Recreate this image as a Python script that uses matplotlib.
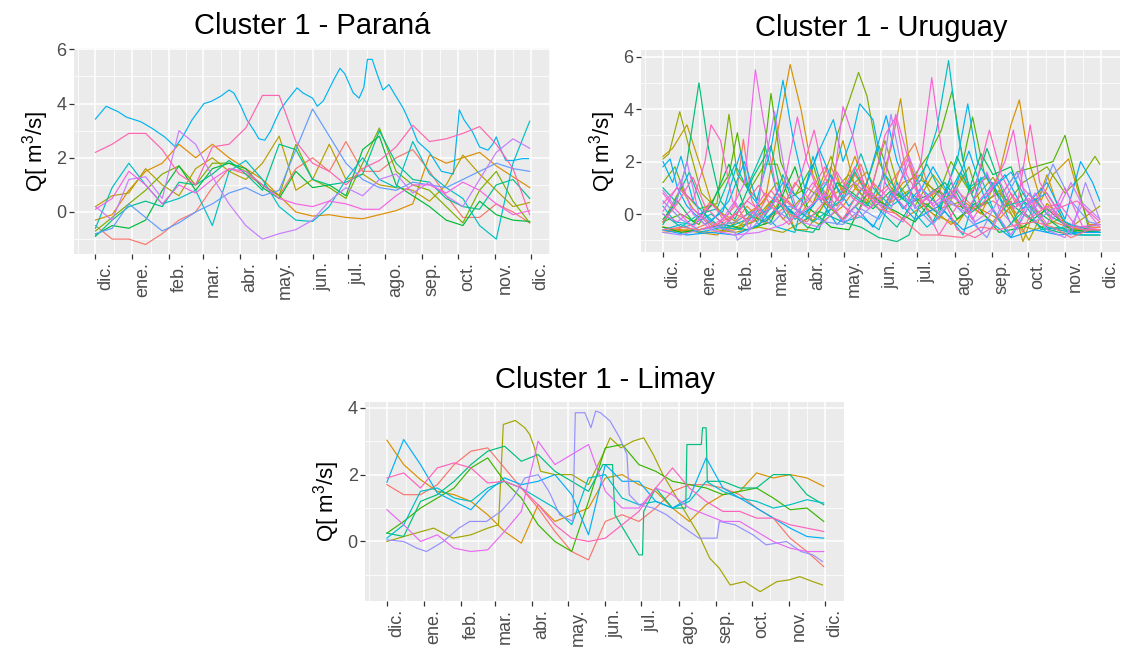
import numpy as np
import matplotlib.pyplot as plt
from matplotlib.transforms import ScaledTranslation

plt.rcParams['font.family'] = ['Liberation Sans', 'DejaVu Sans']
plt.rcParams['mathtext.fontset'] = 'custom'
plt.rcParams['mathtext.rm'] = 'Liberation Sans'

# month starts, counted in days from 1 Dec
month_days = [0, 31, 62, 90, 121, 151, 182, 212, 243, 274, 304, 335, 365]
month_labels = ['dic.', 'ene.', 'feb.', 'mar.', 'abr.', 'may.', 'jun.',
                'jul.', 'ago.', 'sep.', 'oct.', 'nov.', 'dic.']

# fortnightly sampling used by most series
days14 = [0, 14, 28, 42, 56, 70, 84, 98, 112, 126, 140, 154, 168, 182,
          196, 210, 224, 238, 252, 266, 280, 294, 308, 322, 336, 350, 364]

# ---------------- Paraná (standardised Q) ----------------
pa_sky_days = [0, 9, 19, 26, 38, 47, 58, 67, 73, 81, 91, 97, 105, 112, 116, 122, 127, 133,
               137, 142, 147, 151, 155, 160, 169, 174, 182, 186, 191, 200, 205, 209, 216,
               221, 225, 228, 232, 236, 241, 246, 251, 258, 265, 270, 280, 290, 300, 305,
               309, 316, 322, 329, 333, 336, 340, 344, 350, 358, 363]
pa_sky = [3.43, 3.9, 3.7, 3.5, 3.33, 3.1, 2.77, 2.4, 2.77, 3.4, 4.0, 4.08, 4.27, 4.5, 4.39,
          3.9, 3.4, 3.0, 2.7, 2.65, 3.0, 3.4, 3.77, 4.08, 4.58, 4.39, 4.2, 3.9, 4.1, 4.9,
          5.3, 5.1, 4.4, 4.2, 4.6, 5.63, 5.63, 5.1, 4.5, 4.7, 4.33, 3.83, 3.15, 2.6, 2.2,
          1.5, 1.4, 3.77, 3.4, 2.96, 2.4, 2.28, 2.5, 2.77, 2.28, 1.9, 1.9, 1.97, 1.97]
pa_red = [-0.5, -1.0, -1.0, -1.2, -0.8, -0.3, 0.0, 0.9, 1.6, 1.4, 1.0, 0.6, 1.6, 2.0,
          1.5, 2.6, 1.5, 1.5, 2.0, 2.3, 1.5, 0.6, -0.2, -0.2, 0.3, 0.0, -0.4]
pa_orange = [-0.3, -0.1, 0.8, 1.5, 1.8, 2.5, 2.0, 2.5, 2.0, 1.6, 1.2, 0.6, 0.0, -0.15,
             -0.1, -0.2, -0.25, -0.1, 0.05, 0.3, 2.1, 1.8, 2.0, 2.2, 1.7, 1.3, 0.9]
pa_olive = [0.2, 0.6, 0.7, 1.6, 1.0, 0.6, 1.6, 2.0, 1.5, 1.2, 1.8, 2.8, 0.8, 1.2, 2.5,
            1.2, 1.4, 1.0, 0.9, 0.8, 0.4, 1.0, 2.1, 1.4, 0.8, 0.2, 0.35]
pa_lime = [-0.7, -0.2, 0.3, 0.8, 1.4, 1.7, 1.0, 1.8, 1.8, 1.5, 1.0, 0.6, 2.5, 1.2, 0.9,
           0.5, 1.8, 3.1, 1.5, 1.0, 0.8, 0.2, -0.4, 0.8, 1.5, 0.4, -0.4]
pa_green = [-0.85, -0.5, -0.6, -0.3, 0.8, 1.7, 0.8, 1.6, 1.8, 1.6, 0.9, 0.5, 1.5, 0.9,
            1.0, 0.6, 2.3, 2.8, 1.0, 0.6, 0.2, -0.3, -0.5, 0.4, -0.1, -0.3, -0.35]
pa_teal = [-0.9, -0.3, 0.2, 0.4, 0.2, 1.1, 1.0, 1.4, 1.9, 1.4, 0.8, 2.5, 2.3, 1.2, 1.0,
           1.1, 1.4, 3.0, 1.8, 1.2, 1.1, 0.5, 0.2, 0.1, 1.0, 1.2, 0.5]
pa_cyan = [-0.6, 0.9, 1.8, 1.0, 0.3, 0.5, 0.8, -0.5, 1.5, 1.9, 1.2, 0.2, -0.3, -0.35,
           0.2, 1.2, 2.0, 1.2, 0.9, 2.6, 1.4, 0.9, 0.5, -0.5, -1.0, 1.8, 3.35]
pa_blue = [-0.8, -0.6, 0.3, -0.2, -0.7, -0.4, 0.0, 0.3, 0.7, 0.9, 0.6, 0.8, 2.3, 3.8,
           2.8, 1.8, 1.2, 0.9, 0.8, 1.1, 1.0, 0.9, 1.2, 1.5, 1.8, 1.6, 1.5]
pa_purple = [0.2, -0.3, 1.2, 1.3, 0.5, 3.0, 2.5, 1.3, 0.3, -0.5, -1.0, -0.8, -0.65,
             -0.3, 0.4, 0.9, 0.6, 1.2, 1.4, 0.7, 1.1, 0.6, 0.2, 1.2, 2.2, 2.7, 2.35]
pa_magenta = [0.1, 0.5, 1.5, 1.0, 0.3, 1.0, 0.7, 1.2, 1.6, 1.5, 1.0, 0.5, 0.3, 0.2, 0.4,
              0.3, 0.1, 0.1, 0.6, 1.0, 1.0, 0.7, 1.1, 0.8, 0.3, -0.1, 0.05]
pa_pink = [2.2, 2.5, 2.9, 2.9, 2.3, 1.4, 1.0, 2.4, 2.5, 3.1, 4.3, 4.3, 2.6, 1.8, 1.5,
           1.0, 1.6, 1.9, 2.4, 3.2, 2.6, 2.7, 2.9, 3.15, 2.5, 1.6, -0.1]

# ---------------- Limay ----------------
li_red = [1.7, 1.4, 1.4, 1.7, 2.3, 2.7, 2.8, 2.2, 1.6, 1.0, 0.3, -0.3, -0.55, 0.6, 0.8,
          0.6, 1.0, 1.5, 1.7, 1.7, 1.6, 1.4, 1.0, 0.7, 0.1, -0.3, -0.75]
li_orange = [3.03, 2.3, 1.85, 1.5, 1.4, 1.2, 0.8, 0.3, -0.05, 1.1, 0.6, 0.8, 1.0, 1.9,
             2.0, 1.7, 1.5, 1.0, 0.6, 1.1, 1.4, 1.5, 2.05, 1.9, 2.0, 1.9, 1.65]
li_olive_days = [0, 19, 39, 55, 70, 84, 93, 97, 107, 115, 119, 123, 128, 140, 154, 168,
                 180, 186, 195, 205, 214, 222, 230, 240, 250, 260, 269, 277, 286, 298,
                 311, 325, 335, 344, 355, 363]
li_olive = [0.0, 0.2, 0.4, 0.1, 0.2, 0.4, 0.5, 3.5, 3.62, 3.4, 3.2, 2.8, 2.1, 2.0, 2.0,
            1.7, 2.6, 3.1, 2.8, 3.0, 3.1, 2.6, 2.0, 1.4, 0.8, 0.2, -0.5, -0.8, -1.3,
            -1.2, -1.5, -1.2, -1.15, -1.05, -1.2, -1.3]
li_green = [0.25, 0.6, 1.0, 1.3, 1.6, 2.2, 2.5, 1.8, 1.3, 0.5, 0.0, -0.3, 1.2, 2.8, 2.9,
            2.3, 2.1, 1.8, 1.7, 1.6, 1.4, 1.5, 1.6, 1.3, 0.95, 1.0, 0.6]
li_teal_days = [0, 14, 28, 42, 56, 70, 84, 98, 112, 126, 140, 154, 168, 180, 188, 190,
                200, 210, 213, 214, 224, 238, 249, 250, 262, 263, 266, 267, 280, 294,
                308, 322, 336, 350, 364]
li_teal = [0.25, 0.15, 1.2, 1.4, 1.8, 2.3, 2.7, 2.85, 2.4, 2.6, 2.1, 1.8, 1.5, 2.3, 2.3,
           0.8, 0.2, -0.4, -0.4, 0.9, 1.6, 1.0, 1.0, 2.9, 2.9, 3.4, 3.4, 1.8, 1.8, 1.6,
           1.6, 2.0, 2.0, 1.4, 1.1]
li_cyan = [0.1, 0.5, 1.5, 1.6, 1.3, 1.2, 1.6, 1.8, 1.6, 1.3, 1.0, 0.5, 1.9, 2.0, 1.3,
           1.1, 1.2, 1.0, 1.2, 1.8, 1.5, 1.3, 1.2, 1.0, 1.1, 1.25, 1.15]
li_blue = [1.77, 3.05, 2.3, 1.45, 1.2, 0.95, 1.5, 1.9, 1.7, 1.8, 2.0, 1.4, 0.2, 2.3,
           1.8, 1.8, 1.2, 1.0, 1.3, 2.5, 1.6, 1.3, 1.0, 0.7, 0.4, 0.15, 0.1]
li_violet_days = [0, 14, 25, 33, 47, 60, 69, 83, 95, 105, 115, 126, 135, 144, 155, 157,
                  165, 170, 174, 178, 186, 194, 200, 202, 210, 222, 233, 244, 260, 275,
                  277, 290, 305, 316, 333, 345, 355, 363]
li_violet = [0.05, 0.0, -0.2, -0.3, 0.0, 0.4, 0.6, 0.6, 0.9, 1.3, 1.9, 2.0, 1.5, 0.8,
             0.6, 3.85, 3.85, 3.4, 3.9, 3.85, 3.6, 3.1, 2.6, 1.4, 1.1, 1.0, 0.8, 0.5,
             0.1, 0.1, 0.6, 0.5, 0.2, -0.1, 0.0, -0.3, -0.4, -0.6]
li_magenta = [0.95, 0.5, 0.0, 0.2, -0.2, -0.3, -0.25, 0.3, 0.9, 3.0, 2.3, 2.6, 2.9, 1.5,
              1.0, 1.0, 1.6, 1.4, 1.0, 0.8, 0.6, 0.6, 0.3, 0.0, -0.2, -0.3, -0.3]
li_pink = [1.9, 2.05, 1.6, 2.2, 2.35, 2.2, 1.75, 1.8, 1.6, 1.1, 0.5, 0.1, 0.0, 0.1, 0.5,
           0.9, 1.6, 2.2, 1.6, 1.2, 0.9, 0.9, 0.7, 0.7, 0.5, 0.4, 0.3]

# ---------------- Uruguay ----------------
uy01_d = [0, 10, 25, 40, 50, 60, 67, 74, 85, 100, 110, 125, 140, 150, 165, 175, 190, 205,
          215, 230, 245, 260, 275, 290, 300, 315, 330, 345, 364]
uy01_q = [-0.5, -0.6, -0.4, 0.5, -0.2, 0.3, 2.85, 0.5, -0.3, 0.2, 1.2, 0.4, 1.8, 0.8, 1.9,
          0.6, 1.2, 2.2, 0.4, -0.2, 0.9, 0.2, 0.5, 0.0, -0.7, 1.0, -0.2, -0.5, -0.5]
uy02_d = [0, 20, 40, 55, 70, 85, 100, 115, 130, 145, 160, 170, 185, 200, 210, 220, 235,
          250, 262, 280, 295, 310, 325, 345, 364]
uy02_q = [-0.6, -0.7, -0.3, -0.6, 0.3, -0.4, 0.7, 0.0, 1.1, 0.3, 1.5, 0.8, 0.2, 2.0, 2.7,
          1.2, 0.4, 1.5, 0.3, 0.8, 0.0, 0.6, -0.3, -0.6, -0.5]
uy03_d = [0, 20, 40, 60, 80, 95, 110, 130, 150, 165, 180, 200, 220, 240, 260, 280, 300,
          320, 340, 364]
uy03_q = [-0.7, -0.6, -0.7, -0.6, -0.2, 0.8, 0.2, -0.4, 0.3, 1.3, 0.5, -0.2, 0.4, -0.4,
          0.3, -0.2, 0.8, -0.5, -0.7, -0.7]
uy04_d = [0, 15, 30, 45, 55, 70, 85, 95, 106, 115, 125, 135, 150, 160, 170, 185, 200,
          215, 230, 250, 265, 280, 290, 297, 305, 315, 325, 338, 345, 355, 364]
uy04_q = [-0.5, -0.6, -0.7, -0.8, -0.5, 0.0, 0.5, 3.0, 5.7, 4.0, 1.5, 0.5, 1.0, 2.2, 0.8,
          0.2, 1.2, 1.5, 0.2, 0.5, 0.0, 1.5, 3.4, 4.35, 2.0, 0.5, 1.5, 2.1, 1.0, -0.4, -0.4]
uy05_d = [0, 8, 20, 30, 40, 50, 65, 80, 95, 110, 120, 135, 150, 160, 175, 190, 198, 206,
          220, 230, 245, 260, 275, 290, 300, 310, 320, 335, 350, 364]
uy05_q = [2.2, 2.5, 3.4, 2.0, 0.5, 0.0, -0.4, 0.3, 1.2, -0.6, -0.6, 0.4, 2.8, 1.0, 0.3,
          2.5, 4.4, 1.8, 0.6, 0.9, 0.3, 0.2, -0.3, 0.5, -1.05, 0.2, 1.5, -0.5, -0.6, -0.3]
uy06_d = [0, 15, 25, 45, 60, 80, 100, 120, 140, 150, 170, 185, 205, 225, 245, 260, 275,
          290, 305, 320, 340, 364]
uy06_q = [-0.3, 1.0, 0.2, -0.6, -0.7, -0.5, -0.7, -0.2, 2.2, 0.8, 1.6, 0.3, 0.9, 0.0,
          -0.4, 0.6, 1.4, 0.2, -1.0, 0.4, -0.5, 0.3]
uy07_d = [0, 5, 14, 22, 32, 45, 60, 75, 90, 100, 115, 125, 140, 155, 170, 185, 195, 210,
          225, 240, 255, 265, 280, 295, 310, 330, 345, 364]
uy07_q = [2.1, 2.3, 3.9, 2.5, 0.8, 0.2, -0.5, -0.3, 0.5, -0.2, 0.6, -0.3, 0.8, 1.5, 0.4,
          2.8, 1.2, 0.3, 1.5, 0.6, 1.8, 0.3, 0.9, -0.4, -0.6, -0.2, -0.7, -0.6]
uy08_d = [0, 10, 18, 30, 45, 55, 62, 72, 85, 95, 105, 120, 135, 145, 155, 163, 170, 180,
          190, 200, 215, 230, 240, 255, 270, 285, 300, 320, 335, 350, 360, 364]
uy08_q = [1.2, 1.8, 0.8, 0.2, 0.4, 3.8, 1.5, 0.9, 1.9, 1.9, 0.6, 1.0, 0.5, 3.0, 4.3, 5.4,
          4.5, 2.0, 1.0, 0.6, 1.3, 0.8, 2.0, 0.9, 1.4, 0.3, 1.2, 1.8, 0.8, 1.5, 2.2, 1.9]
uy09_d = [0, 15, 30, 45, 55, 62, 70, 80, 90, 98, 110, 125, 135, 150, 165, 180, 195, 210,
          222, 232, 241, 250, 258, 268, 280, 295, 310, 325, 335, 345, 355, 364]
uy09_q = [-0.3, 0.0, -0.4, 0.8, 1.5, 3.1, 1.0, 0.5, 4.6, 2.0, 0.7, 1.9, 0.4, -0.2, 0.5,
          2.6, 0.7, 1.5, 2.3, 3.2, 4.7, 2.0, 3.7, 1.5, 0.6, 1.6, 1.8, 2.0, 3.0, 1.2, -0.6,
          -0.6]
uy10_d = [0, 15, 30, 50, 70, 90, 110, 120, 140, 155, 170, 190, 210, 230, 245, 260, 280,
          300, 320, 340, 364]
uy10_q = [-0.5, -0.7, -0.6, -0.4, -0.6, -0.3, 1.8, 0.3, -0.5, -0.6, 0.8, 0.2, -0.3, 0.9,
          -0.2, 0.4, -0.7, -0.5, 0.2, -0.6, -0.7]
uy11_d = [0, 12, 25, 40, 55, 70, 85, 100, 120, 130, 145, 158, 175, 190, 205, 220, 235,
          250, 265, 275, 290, 300, 315, 330, 345, 364]
uy11_q = [-0.2, 0.5, -0.3, 0.3, 1.9, 0.0, -0.3, 0.4, -0.5, -0.6, 1.2, 0.8, 0.2, 0.9, 0.4,
          0.7, 1.2, 0.2, 2.3, 1.5, 1.8, 0.5, 0.0, -0.5, -0.7, -0.7]
uy12_d = [0, 12, 20, 30, 38, 48, 60, 75, 90, 100, 115, 130, 150, 165, 180, 195, 205, 215,
          230, 245, 258, 270, 285, 300, 315, 330, 350, 364]
uy12_q = [-0.4, 0.6, 2.0, 5.0, 2.5, 0.5, -0.2, 1.4, 2.6, 0.4, -0.3, 0.1, -0.3, -0.5, -0.9,
          -1.05, -0.8, 0.5, 0.0, 2.2, 0.8, 2.5, 0.6, 0.0, -0.5, -0.7, -0.8, -0.8]
uy13_d = [0, 10, 22, 35, 50, 65, 80, 95, 110, 125, 140, 160, 175, 195, 210, 225, 240,
          255, 270, 285, 300, 320, 340, 364]
uy13_q = [1.0, 0.5, 1.6, 0.0, -0.6, 0.4, -0.4, 0.6, -0.6, -0.7, 0.2, 1.6, 0.4, -0.5, 0.6,
          -0.3, 1.2, 0.0, 0.5, -0.6, 0.1, -0.7, -0.4, -0.7]
uy14_d = [0, 15, 30, 45, 60, 70, 85, 95, 110, 125, 140, 150, 165, 175, 190, 205, 220,
          235, 248, 262, 275, 290, 305, 320, 335, 350, 364]
uy14_q = [0.0, -0.5, 0.0, 0.2, 1.9, 1.0, 2.6, 0.8, -0.2, 0.3, 1.5, 0.5, 2.3, 1.0, 0.3,
          0.8, 1.9, 0.5, 1.6, 0.3, 1.2, -0.4, 0.8, 0.0, -0.4, -0.5, -0.4]
uy15_d = [0, 10, 25, 40, 55, 70, 90, 100, 110, 125, 140, 155, 170, 185, 200, 215, 228,
          238, 246, 255, 270, 285, 300, 315, 330, 345, 364]
uy15_q = [0.3, -0.3, -0.4, 0.0, -0.5, -0.2, 0.2, 1.5, 0.2, -0.3, 0.2, 0.8, 0.3, 1.5, 0.6,
          1.3, 3.2, 5.85, 3.0, 1.0, 1.5, 0.3, 0.5, -0.6, -0.5, -0.8, -0.8]
uy16_d = [0, 15, 30, 50, 65, 80, 95, 110, 125, 135, 150, 165, 180, 195, 205, 220, 235,
          250, 265, 275, 290, 305, 320, 340, 364]
uy16_q = [-0.6, -0.4, -0.7, -0.5, -0.6, 0.2, -0.5, -0.7, 2.2, 0.6, -0.3, -0.1, -0.6, 1.2,
          0.3, -0.5, 0.1, -0.8, 1.4, 0.2, -0.9, 0.3, -0.5, -0.7, -0.7]
uy17_d = [0, 8, 15, 25, 40, 55, 68, 78, 90, 100, 108, 118, 130, 142, 150, 158, 164, 175,
          185, 200, 215, 230, 245, 254, 262, 275, 290, 305, 320, 335, 350, 364]
uy17_q = [2.0, 1.2, 2.2, 0.5, -0.3, 0.5, 2.0, 0.5, 2.5, 5.1, 3.0, 1.0, 2.4, 3.6, 2.0,
          3.0, 4.2, 3.6, 1.2, 0.2, 1.0, 0.3, 2.0, 4.2, 2.0, 1.0, 1.6, 0.4, 0.8, -0.3,
          -0.6, -0.6]
uy18_d = [0, 6, 12, 20, 35, 50, 65, 72, 85, 100, 115, 130, 140, 155, 170, 186, 195, 210,
          225, 240, 255, 268, 285, 300, 320, 335, 348, 358, 364]
uy18_q = [1.8, 2.1, 1.0, 0.3, -0.4, 0.1, 2.4, 0.8, 0.0, 1.2, 0.5, 2.5, 1.4, 0.3, 1.2,
          3.75, 2.0, 0.5, 1.8, 0.6, 2.4, 0.6, 1.5, 0.2, 1.2, -0.2, 2.0, 1.2, 0.5]
uy19_d = [0, 20, 40, 60, 80, 100, 115, 130, 145, 160, 175, 190, 210, 230, 250, 270, 290,
          310, 330, 350, 364]
uy19_q = [-0.6, -0.8, -0.7, -0.8, -0.4, 0.4, -0.2, 0.6, -0.4, 0.3, -0.5, 0.8, -0.2, 0.3,
          -0.6, -0.2, -0.9, -0.6, -0.8, -0.7, -0.7]
uy20_d = [0, 15, 30, 45, 60, 75, 90, 105, 120, 135, 150, 165, 180, 195, 210, 225, 240,
          255, 270, 285, 300, 310, 325, 340, 355, 364]
uy20_q = [0.5, -0.2, -0.6, -0.5, -0.3, 0.1, -0.4, 0.3, 0.0, -0.3, -0.4, 0.2, -0.2, 0.9,
          0.3, -0.4, 0.5, -0.2, -0.9, 0.6, 1.8, 0.2, 1.9, 0.5, -0.3, -0.4]
uy21_d = [0, 15, 30, 45, 60, 62, 75, 90, 105, 120, 135, 150, 165, 180, 190, 198, 210,
          225, 240, 255, 265, 280, 295, 310, 325, 340, 352, 364]
uy21_q = [-0.7, -0.8, -0.6, -0.5, -0.7, -1.0, -0.5, 0.3, -0.2, 0.5, 1.2, 0.3, -0.1, 0.6,
          3.8, 2.0, 0.2, 0.9, 0.4, 0.0, -0.7, 0.6, 1.6, -0.3, 0.2, -0.8, 1.2, -0.2]
uy22_d = [0, 10, 20, 30, 45, 60, 72, 80, 93, 102, 115, 130, 145, 160, 175, 190, 205, 215,
          230, 245, 260, 275, 290, 305, 320, 335, 350, 364]
uy22_q = [0.9, 0.3, 2.0, 0.0, -0.5, 0.5, -0.6, 0.6, 3.9, 1.5, -0.3, -0.5, 0.2, 1.2, 0.5,
          0.2, 2.2, 1.0, 0.0, 1.0, -0.3, 0.2, -0.8, 0.5, -0.6, -0.9, 0.4, -0.2]
uy23_d = [0, 15, 25, 40, 60, 80, 100, 120, 135, 150, 170, 185, 200, 215, 225, 240, 255,
          270, 280, 295, 310, 325, 340, 350, 364]
uy23_q = [0.1, 1.3, 0.0, -0.6, -0.8, -0.7, -0.4, 0.2, 0.8, -0.3, 0.9, 0.1, -0.3, 1.0,
          0.3, 0.7, 0.2, 1.6, 0.2, -0.6, 0.8, -0.2, 1.2, 0.3, -0.5]
uy24_d = [0, 12, 25, 40, 55, 68, 77, 84, 95, 110, 125, 140, 150, 158, 168, 182, 194, 202,
          212, 225, 240, 255, 265, 280, 292, 305, 320, 335, 350, 364]
uy24_q = [0.0, -0.3, 0.2, -0.5, 0.0, 1.2, 5.5, 3.5, 0.8, 0.2, 1.2, 0.2, 4.1, 3.0, 1.0,
          0.5, 3.8, 2.5, 0.8, 0.4, 0.9, 0.0, 0.6, 1.3, 0.2, 0.6, -0.4, 1.0, -0.5, -0.6]
uy25_d = [0, 10, 25, 40, 55, 70, 85, 100, 112, 120, 132, 145, 158, 172, 188, 202, 215,
          224, 232, 245, 258, 272, 285, 292, 300, 315, 330, 345, 364]
uy25_q = [0.8, 0.2, -0.5, 0.4, -0.3, 0.5, 0.0, 0.9, 3.7, 2.0, 0.5, 1.6, 0.6, 0.2, 1.0,
          0.2, 2.0, 5.2, 2.5, 0.6, -0.2, 0.8, 2.0, 3.2, 1.0, 0.2, 0.4, -0.5, -0.4]
uy26_d = [0, 12, 25, 35, 40, 48, 58, 70, 85, 100, 115, 126, 134, 145, 160, 172, 185, 194,
          203, 215, 230, 245, 260, 272, 282, 295, 306, 314, 328, 345, 364]
uy26_q = [0.4, 1.0, 0.5, 2.0, 3.4, 2.8, 0.5, -0.3, 0.8, 0.3, 1.5, 3.2, 1.5, 0.5, 1.8,
          0.6, 3.0, 3.7, 1.5, 0.6, -0.8, 0.3, 1.0, 3.2, 1.5, 0.3, 3.4, 1.2, 0.2, 0.5, -0.3]
uy27_d = [0, 12, 25, 35, 50, 65, 80, 90, 105, 120, 135, 145, 160, 175, 190, 205, 215,
          230, 245, 260, 275, 290, 305, 320, 335, 350, 364]
uy27_q = [-0.3, 0.4, 1.4, 0.3, -0.4, 0.2, 1.1, 0.3, -0.4, 0.6, 1.8, 0.6, -0.2, 1.2, 0.5,
          1.9, 0.4, 1.0, -0.6, -0.9, -0.5, 0.8, -0.2, 0.3, -0.4, -0.6, -0.6]
uy28_d = [0, 15, 30, 45, 60, 75, 90, 105, 120, 135, 150, 165, 180, 195, 215, 230, 250,
          265, 280, 295, 310, 325, 340, 355, 364]
uy28_q = [-0.6, -0.5, -0.6, -0.4, 0.0, -0.3, 0.9, 0.0, -0.3, 0.5, -0.2, 1.0, 0.2, 0.0,
          -0.8, -0.8, -0.9, -0.5, -0.6, -0.4, -0.3, -0.5, -0.9, -0.6, -0.6]


def hue_pal(n):
    # ggplot2 default discrete colours: hcl(h, c = 100, l = 65), h from 15 to 375
    hues = np.linspace(15, 375, n + 1)[:n]
    L, C = 65.0, 100.0
    xn, yn, zn = 95.047, 100.0, 108.883
    un = 4 * xn / (xn + 15 * yn + 3 * zn)
    vn = 9 * yn / (xn + 15 * yn + 3 * zn)
    out = []
    for h in hues:
        u = C * np.cos(np.radians(h))
        v = C * np.sin(np.radians(h))
        Y = yn * ((L + 16) / 116) ** 3
        up = u / (13 * L) + un
        vp = v / (13 * L) + vn
        X = Y * 9 * up / (4 * vp)
        Z = Y * (12 - 3 * up - 20 * vp) / (4 * vp)
        xyz = np.array([X, Y, Z]) / 100
        m = np.array([[3.240479, -1.537150, -0.498535],
                      [-0.969256, 1.875992, 0.041556],
                      [0.055648, -0.204043, 1.057311]])
        rgb = m @ xyz
        rgb = np.where(rgb > 0.00304, 1.055 * np.clip(rgb, 0, None) ** (1 / 2.4) - 0.055,
                       12.92 * rgb)
        out.append(tuple(np.clip(rgb, 0, 1)))
    return out


parana = [(days14, pa_red), (days14, pa_orange), (days14, pa_olive), (days14, pa_lime),
          (days14, pa_green), (days14, pa_teal), (days14, pa_cyan), (pa_sky_days, pa_sky),
          (days14, pa_blue), (days14, pa_purple), (days14, pa_magenta), (days14, pa_pink)]
limay = [(days14, li_red), (days14, li_orange), (li_olive_days, li_olive),
         (days14, li_green), (li_teal_days, li_teal), (days14, li_cyan), (days14, li_blue),
         (li_violet_days, li_violet), (days14, li_magenta), (days14, li_pink)]
uruguay = [(uy01_d, uy01_q), (uy02_d, uy02_q), (uy03_d, uy03_q), (uy04_d, uy04_q),
           (uy05_d, uy05_q), (uy06_d, uy06_q), (uy07_d, uy07_q), (uy08_d, uy08_q),
           (uy09_d, uy09_q), (uy10_d, uy10_q), (uy11_d, uy11_q), (uy12_d, uy12_q),
           (uy13_d, uy13_q), (uy14_d, uy14_q), (uy15_d, uy15_q), (uy16_d, uy16_q),
           (uy17_d, uy17_q), (uy18_d, uy18_q), (uy19_d, uy19_q), (uy20_d, uy20_q),
           (uy21_d, uy21_q), (uy22_d, uy22_q), (uy23_d, uy23_q), (uy24_d, uy24_q),
           (uy25_d, uy25_q), (uy26_d, uy26_q), (uy27_d, uy27_q), (uy28_d, uy28_q)]

fig = plt.figure(figsize=(11.24, 6.53), dpi=100)
ax_pa = fig.add_axes([0.0658, 0.611, 0.4235, 0.3155])
ax_uy = fig.add_axes([0.5706, 0.614, 0.4260, 0.3093])
ax_li = fig.add_axes([0.3250, 0.0796, 0.4260, 0.3047])


def gg_panel(ax, series, title, ylim, yticks, yminor):
    ax.set_facecolor('#EBEBEB')
    for sp in ax.spines.values():
        sp.set_visible(False)
    for (d, q), c in zip(series, hue_pal(len(series))):
        ax.plot(d, q, color=c, lw=0.85)
    ax.set_xlim(-18, 381)
    ax.set_ylim(*ylim)
    ax.set_xticks(month_days)
    ax.set_xticklabels(month_labels, rotation=90, va='top', ha='center')
    edges = [-30] + month_days + [396]
    ax.set_xticks([(a + b) / 2 for a, b in zip(edges[:-1], edges[1:])], minor=True)
    ax.set_yticks(yticks)
    ax.set_yticks(yminor, minor=True)
    ax.grid(which='major', color='white', lw=1.1)
    ax.grid(which='minor', color='white', lw=0.55)
    ax.set_axisbelow(True)
    ax.tick_params(which='minor', length=0)
    ax.tick_params(which='major', length=3.5, width=0.9, color='#333333',
                   labelcolor='#4D4D4D', labelsize=13, pad=2)
    shift = ScaledTranslation(10 / 100, 0, fig.dpi_scale_trans)
    for lab in ax.get_xticklabels():
        lab.set_transform(lab.get_transform() + shift)
    ax.set_ylabel(r'Q[ $\mathregular{m^3}$/s]', fontsize=16, color='black', labelpad=4)
    ax.set_title(title, fontsize=21, pad=10)


gg_panel(ax_pa, parana, 'Cluster 1 - Paraná', (-1.55, 6.05), [0, 2, 4, 6], [-1, 1, 3, 5])
gg_panel(ax_uy, uruguay, 'Cluster 1 - Uruguay', (-1.45, 6.25), [0, 2, 4, 6], [-1, 1, 3, 5])
gg_panel(ax_li, limay, 'Cluster 1 - Limay', (-1.78, 4.17), [0, 2, 4], [-1, 1, 3])

fig.savefig('out.png', dpi=100)
